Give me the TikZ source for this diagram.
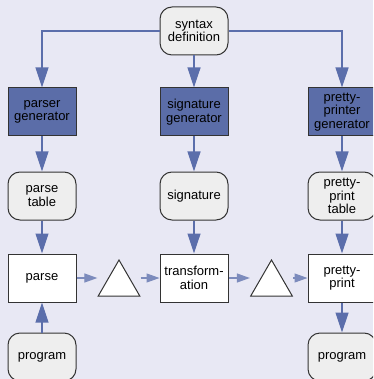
\documentclass[tikz,border=0pt]{standalone}
\usepackage{fontspec}
\setmainfont{Liberation Sans}
\usepackage{tikz}
\usetikzlibrary{shapes.geometric, arrows.meta, positioning, calc}
\definecolor{bgcol}{HTML}{E8E8F4}
\definecolor{toolcol}{HTML}{5B6DA8}
\definecolor{arrowcol}{HTML}{5B6EAB}
\definecolor{datacol}{HTML}{EEEEEE}

\begin{document}
\begin{tikzpicture}[x=1pt, y=-1pt, font=\fontsize{13}{13.3}\selectfont,
    box/.style={draw=black!80, line width=1pt, minimum width=68pt, minimum height=48pt, align=center, inner sep=1pt},
    data/.style={box, rounded corners=12pt, fill=datacol},
    tool/.style={box, fill=toolcol},
    proc/.style={box, fill=white},
    tri/.style={draw=black!80, line width=1pt, fill=white, regular polygon, regular polygon sides=3, minimum size=48pt, inner sep=0pt},
    flow/.style={arrowcol, line width=1.2pt, -{Triangle[length=20pt, width=13pt]}},
    pass/.style={arrowcol!80, line width=1.2pt, -{Triangle[length=13pt, width=9pt]}}]
    \clip (0,0) rectangle (373,379);
    \fill[bgcol] (0,0) rectangle (373,379);
    \node[data] (syndef) at (194,31) {syntax\\definition};
    \node[tool] (pgen) at (42,112) {parser\\generator};
    \node[tool] (sgen) at (194,112) {signature\\generator};
    \node[tool] (ppgen) at (342,112) {pretty-\\printer\\generator};
    \node[data] (ptab) at (42,196) {parse\\table};
    \node[data] (sig) at (194,196) {signature};
    \node[data] (pptab) at (342,196) {pretty-\\print\\table};
    \node[proc] (parse) at (42,278) {parse};
    \node[proc] (trans) at (194,278) {transform-\\ation};
    \node[proc] (pprint) at (342,278) {pretty-\\print};
    \node[tri] (tri1) at (119,284) {};
    \node[tri] (tri2) at (271.5,284) {};
    \node[data] (progin) at (42,357) {program};
    \node[data] (progout) at (342,357) {program};
    \draw[flow] (syndef.west) -| (pgen.north);
    \draw[flow] (syndef) -- (sgen);
    \draw[flow] (syndef.east) -| (ppgen.north);
    \draw[flow] (pgen) -- (ptab);
    \draw[flow] (sgen) -- (sig);
    \draw[flow] (ppgen) -- (pptab);
    \draw[flow] (ptab) -- (parse);
    \draw[flow] (sig) -- (trans);
    \draw[flow] (pptab) -- (pprint);
    \draw[flow] (progin) -- (parse);
    \draw[flow] (pprint) -- (progout);
    \draw[pass] (parse.east) -- (parse.east -| tri1.corner 2);
    \draw[pass] (tri1.corner 3 |- trans.west) -- (trans.west);
    \draw[pass] (trans.east) -- (trans.east -| tri2.corner 2);
    \draw[pass] (tri2.corner 3 |- pprint.west) -- (pprint.west);
\end{tikzpicture}
\end{document}
